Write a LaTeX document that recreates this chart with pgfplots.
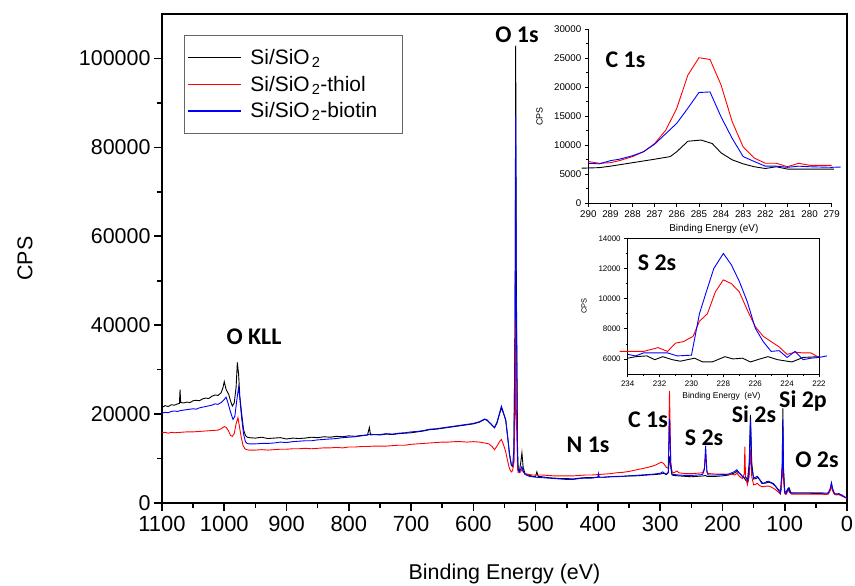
\documentclass[border=0pt]{standalone}
\usepackage{fontspec}
\setmainfont{Liberation Sans}
\newfontfamily\calibri{Carlito}
\usepackage{pgfplots}
\pgfplotsset{compat=1.18}
\definecolor{pblue}{RGB}{0,0,255}
\definecolor{pred}{RGB}{255,0,0}
\newcommand{\subtwo}{\kern2bp\textsubscript{2}}

\pgfplotstableread{
E C
1100 21500
1095 21900
1090 21700
1085 22100
1080 22000
1075 22300
1072 22400
1071 25500
1070 22600
1065 22500
1060 22700
1055 22600
1050 23000
1045 23100
1040 23000
1035 23400
1030 23600
1025 23500
1020 24000
1015 24300
1010 24200
1005 24800
1002 26000
1000 27300
997 25500
993 24500
990 23000
987 21800
984 22500
981 26000
979 31600
977 29000
975 24000
972 20000
969 16500
966 15200
963 14800
960 14700
950 14600
940 14800
930 14500
920 14600
910 14700
900 14400
890 14600
880 14500
870 14600
860 14800
850 14700
840 14900
830 14800
820 15000
810 14900
800 15100
790 15000
780 15200
770 15300
767 17000
765 15300
760 15400
750 15300
740 15500
730 15400
720 15600
710 15700
700 15800
690 16000
680 16200
670 16500
660 16600
650 16800
640 17000
630 17200
620 17400
610 17600
600 17800
590 18200
582 18800
578 18600
572 17800
566 16900
562 18000
558 20000
555 21400
552 20300
548 18600
545 15000
542 11000
539 8500
537 8200
535 9500
533 40000
532 102900
531 50000
529 12000
528 7500
526 7200
524 9000
522 11300
520 8000
517 6600
510 6200
505 6000
500 6000
498 7000
496 6000
490 5900
480 5700
470 5600
460 5500
450 5500
440 5400
430 5600
420 5700
410 5700
400 5800
399 6200
398 5800
390 5800
380 5900
370 5900
360 6000
350 6100
340 6100
330 6200
320 6300
310 6400
300 6500
295 6700
290 6400
287 6800
285 10500
283 8000
281 6300
278 6200
270 6100
260 6000
250 5900
240 6000
230 6100
227 6200
225 6000
220 6000
210 6000
200 6100
190 6300
180 6800
177 7100
172 6600
168 6000
165 5600
163 5200
160 4800
157 9000
155 19800
153 9000
150 5400
146 5500
143 5800
140 5200
135 4400
130 4500
126 4700
120 4400
115 3800
110 3000
106 2700
104 9000
103 21300
102 8000
100 2600
98 2400
95 3200
93 3400
90 2300
85 2200
80 2200
70 2200
60 2200
50 2100
40 2100
35 2000
30 2100
27 3000
25 4300
23 3000
20 2000
15 2000
13 2100
10 1700
5 1400
0 1100
}\blackdata

\pgfplotstableread{
E C
1100 20200
1095 20400
1090 20300
1085 20600
1080 20700
1075 20600
1070 20800
1060 21000
1050 21200
1045 21100
1040 21400
1030 21700
1020 22000
1015 22300
1010 22200
1005 22600
1000 23300
997 23800
994 22500
990 20500
986 18800
983 19500
980 23000
977 26000
975 23500
972 19000
969 15500
966 13800
963 13400
960 13300
950 13300
940 13400
930 13400
920 13500
910 13700
900 13600
890 13800
880 13900
870 14000
860 14000
850 14200
840 14300
830 14400
820 14500
810 14700
800 14800
790 14900
780 15100
770 15300
766 15500
760 15400
750 15400
740 15600
730 15500
720 15700
710 15800
700 16000
690 16100
680 16300
670 16600
660 16700
650 16900
640 17100
630 17300
620 17500
610 17700
600 17900
590 18300
582 18900
578 18700
572 17800
566 17000
562 18200
558 20200
555 21800
552 20500
548 18700
545 15000
542 11000
539 8600
537 8300
535 12000
533 40000
532 87000
531 45000
529 10000
528 7300
526 7000
524 7600
522 8200
520 7200
517 6400
510 6000
505 5900
500 5800
490 5700
480 5600
470 5500
460 5400
450 5300
440 5300
430 5500
420 5600
410 5600
400 5800
399 6600
398 5800
390 5800
380 5900
370 6000
360 6000
350 6100
340 6200
330 6300
320 6400
310 6500
300 6700
296 7000
292 6600
290 6500
287 6900
285 19000
283 9000
281 6500
278 6400
270 6300
260 6200
250 6200
240 6300
232 6400
229 7500
227 12900
225 7000
223 6300
220 6300
210 6300
200 6400
190 6500
185 6800
180 7100
177 7500
172 6600
168 6000
165 5800
162 5700
159 5000
157 8000
155 18800
153 8000
150 5600
147 5800
144 6000
140 5200
137 4400
133 4500
129 4800
126 4900
122 4600
118 4400
113 3400
110 2800
107 2200
104 8000
103 18800
102 7000
100 2400
98 2100
95 3000
94 3300
92 2600
89 2200
85 2300
80 2300
70 2300
60 2300
50 2300
40 2300
35 2200
30 2300
27 3200
25 4600
23 3200
20 2100
16 2000
14 2100
12 2000
8 1800
4 1400
0 1100
}\bluedata

\pgfplotstableread{
E C
1100 15800
1095 15900
1090 15700
1085 15900
1080 15800
1070 15900
1060 16000
1050 16000
1040 16100
1030 16200
1020 16300
1010 16400
1005 16700
1000 17200
997 17000
993 16200
990 15200
987 15000
984 15600
981 17800
978 19200
976 17500
973 15000
970 13000
967 12200
964 12000
960 11900
950 11900
940 12000
930 11900
920 12000
910 12100
900 12100
890 12200
880 12200
870 12300
860 12200
850 12300
840 12400
830 12400
820 12500
810 12400
800 12600
790 12600
780 12700
770 12700
760 12800
750 12800
740 12800
730 12900
720 13000
710 13000
700 13200
690 13300
680 13400
670 13500
660 13600
650 13700
640 13700
630 13800
620 13800
610 13700
600 13800
590 13700
582 13500
575 13300
570 12700
566 12000
562 12800
558 13800
555 14300
552 13300
548 11500
545 9500
542 7700
539 7000
537 7300
535 9000
533 20000
532 43700
531 20000
529 8000
528 6800
526 6800
524 7000
522 7600
520 7000
517 6600
510 6400
505 6300
500 6300
490 6300
480 6200
470 6100
460 6100
450 6100
440 6100
430 6200
420 6300
410 6300
400 6400
390 6500
380 6600
370 6800
360 6900
350 7100
340 7400
330 7700
320 8000
310 8400
305 8700
298 9200
294 8800
290 8000
287 7800
285 25200
283 9000
281 7000
278 6800
273 7200
270 6800
260 6600
250 6600
240 6700
232 6800
229 7800
227 11000
225 7200
223 6600
220 6600
210 6500
200 6500
190 6400
185 6500
180 6300
177 6700
172 5900
168 5500
165 6500
164 12700
163 6000
160 4100
157 6000
155 12000
153 6000
150 4100
147 4200
144 4400
140 3900
137 3700
133 3700
129 3800
126 3800
122 3600
118 3300
113 2800
110 2400
107 2000
104 6000
103 12000
102 5500
100 2100
98 1900
95 2700
94 3000
92 2300
89 2000
85 2000
80 2000
70 2000
60 2000
50 2000
40 2000
35 1900
30 2000
27 2800
25 3700
23 2700
20 1900
16 1800
14 1900
12 1800
8 1600
4 1300
0 1000
}\reddata

\begin{document}
\begin{tikzpicture}
\begin{axis}[
  name=main, at={(0,0)}, anchor=south west,
  width=685bp, height=489bp, scale only axis,
  x dir=reverse, xmin=0, xmax=1100, ymin=0, ymax=110000,
  xtick={0,100,...,1100}, minor x tick num=1,
  ytick={0,20000,...,100000}, minor y tick num=1,
  tick align=outside, xtick pos=bottom, ytick pos=left,
  major tick length=8bp, minor tick length=5bp,
  axis line style={line width=1.6bp},
  tick style={line width=1.6bp, black},
  scaled y ticks=false, scaled x ticks=false,
  /pgf/number format/1000 sep={},
  /pgf/number format/assume math mode=true,
  yticklabel style={/pgf/number format/fixed, font=\fontsize{21.5}{24}\selectfont},
  xticklabel style={font=\fontsize{22}{24}\selectfont, yshift=-2bp},
  xlabel={Binding Energy (eV)}, ylabel={CPS},
  label style={font=\fontsize{21.5}{24}\selectfont},
  xlabel style={at={(axis description cs:0.5,-0.145)}, anchor=center},
  ylabel style={at={(axis description cs:-0.2,0.5)}, anchor=center},
  legend style={at={(axis description cs:0.0321,0.957)}, anchor=north west,
    draw=black!60, line width=0.8bp, font=\fontsize{21}{24}\selectfont,
    inner xsep=3bp, inner ysep=12bp, row sep=6bp,
    /tikz/every odd column/.append style={column sep=7bp}},
  legend cell align=left,
  legend image code/.code={\draw[#1] (0bp,0bp) -- (53bp,0bp);},
]
\addlegendimage{draw=black, line width=1.1bp}
\addlegendentry{Si/SiO\subtwo}
\addlegendimage{draw=pred, line width=1.1bp}
\addlegendentry{Si/SiO\subtwo-thiol}
\addlegendimage{draw=pblue, line width=1.1bp}
\addlegendentry{Si/SiO\subtwo-biotin\rule{20bp}{0pt}}
\addplot[black, line width=0.9bp, forget plot] table[x=E, y=C] {\blackdata};
\addplot[pred, line width=0.9bp, forget plot] table[x=E, y=C] {\reddata};
\addplot[pblue, line width=0.9bp, forget plot] table[x=E, y=C] {\bluedata};
\end{axis}

% Inset C 1s
\begin{axis}[
  at={(426.3bp,299.7bp)}, anchor=south west,
  width=243.4bp, height=174bp, scale only axis, clip=false,
  x dir=reverse, xmin=279, xmax=290, ymin=0, ymax=30000,
  xtick={279,...,290}, ytick={0,5000,...,30000}, minor y tick num=1,
  axis x line=bottom, axis y line=left, axis line style={-, line width=0.9bp},
  tick align=outside, major tick length=3.5bp, minor tick length=2bp,
  tick style={line width=0.8bp, black},
  scaled y ticks=false, scaled x ticks=false,
  /pgf/number format/1000 sep={},
  /pgf/number format/assume math mode=true,
  yticklabel style={/pgf/number format/fixed},
  ticklabel style={font=\fontsize{9.8}{11}\selectfont},
  xlabel={Binding Energy (eV)}, ylabel={CPS},
  xlabel style={font=\fontsize{10}{12}\selectfont, at={(axis description cs:0.516,-0.148)}, anchor=center},
  ylabel style={font=\fontsize{9}{11}\selectfont, at={(axis description cs:-0.2,0.5)}, anchor=center},
]
\addplot[black, line width=0.9bp] coordinates {
(290.3,6050) (289.5,6150) (289.0,6400) (288.0,7000) (287.0,7600) (286.3,8050) (286.0,8900) (285.5,10700) (284.9,10900) (284.4,10300) (284.0,8700) (283.5,7500) (283.0,6800) (282.5,6300) (282.0,6000) (281.5,6300) (281.0,5900) (280.0,5900) (278.9,5900)};
\addplot[pred, line width=0.9bp] coordinates {
(290.0,7200) (289.5,6900) (289.0,7000) (288.6,7350) (288.0,8050) (287.5,8900) (287.0,10300) (286.5,12600) (286.0,16400) (285.5,22100) (285.0,25100) (284.5,24800) (284.0,20400) (283.5,14100) (283.0,9700) (282.5,7800) (282.0,6900) (281.5,6900) (281.0,6300) (280.5,6900) (280.0,6550) (279.0,6550)};
\addplot[pblue, line width=0.9bp] coordinates {
(290.0,6900) (289.5,6800) (289.0,7350) (288.6,7600) (288.0,8200) (287.5,8900) (287.0,10200) (286.5,12000) (286.0,13800) (285.5,16400) (285.0,19100) (284.5,19200) (284.0,14900) (283.5,11200) (283.0,8050) (282.5,7200) (282.0,6400) (281.5,6400) (281.0,6200) (280.5,6400) (280.0,6300) (279.0,6200) (278.6,6250)};
\end{axis}

% Inset S 2s
\begin{axis}[
  at={(465.7bp,129bp)}, anchor=south west,
  width=191.3bp, height=135.6bp, scale only axis, clip=false,
  x dir=reverse, xmin=222, xmax=234, ymin=5000, ymax=14000,
  xtick={222,224,...,234}, minor x tick num=1,
  ytick={6000,8000,...,14000}, minor y tick num=1,
  xtick pos=bottom, ytick pos=left,
  axis line style={line width=0.8bp},
  tick align=outside, major tick length=3.5bp, minor tick length=2bp,
  tick style={line width=0.7bp, black},
  scaled y ticks=false, scaled x ticks=false,
  /pgf/number format/1000 sep={},
  /pgf/number format/assume math mode=true,
  yticklabel style={/pgf/number format/fixed},
  ticklabel style={font=\fontsize{8}{10}\selectfont},
  xlabel={Binding Energy\ \ (eV)}, ylabel={CPS},
  xlabel style={font=\fontsize{8.5}{10}\selectfont, at={(axis description cs:0.49,-0.162)}, anchor=center},
  ylabel style={font=\fontsize{7.5}{9}\selectfont, at={(axis description cs:-0.228,0.5)}, anchor=center},
]
\addplot[black, line width=0.9bp] coordinates {
(234.0,6050) (233.5,6150) (232.8,6200) (232.3,5950) (231.8,6150) (231.2,5950) (230.7,5850) (229.8,6050) (229.3,5800) (228.7,5800) (227.9,6150) (227.4,6000) (226.8,6050) (226.3,5800) (225.7,6000) (225.2,6150) (224.6,5950) (223.7,5800) (223.0,6100) (222.0,6150)};
\addplot[pred, line width=0.9bp] coordinates {
(234.5,6500) (233.0,6500) (232.1,6750) (231.5,6500) (231.0,7050) (230.5,7150) (229.9,7500) (229.5,8500) (229.0,9000) (228.5,10450) (228.0,11250) (227.5,11000) (227.0,10450) (226.5,9250) (226.0,8150) (225.5,7500) (225.0,7150) (224.5,6800) (224.0,6300) (223.5,6450) (223.0,6400) (222.5,6400) (222.0,6100)};
\addplot[pblue, line width=0.9bp] coordinates {
(234.0,6300) (233.5,6200) (233.0,6400) (232.1,6400) (231.5,6400) (230.9,6200) (230.0,6250) (229.5,9000) (229.1,10350) (228.6,12000) (228.0,13000) (227.5,12250) (227.0,11150) (226.5,9800) (226.0,8050) (225.5,7150) (225.0,6500) (224.5,6550) (224.0,6100) (223.5,6500) (223.0,5950) (222.5,6050) (222.0,6100) (221.5,6200)};
\end{axis}

% peak labels
\begin{scope}[every node/.style={font=\calibri\bfseries\fontsize{24}{28}\selectfont, inner sep=0pt, anchor=center}]
\node at (355bp,468bp) {O 1s};
\node at (92bp,166bp) {O KLL};
\node at (426bp,58bp) {N 1s};
\node at (486bp,83bp) {C 1s};
\node at (542bp,65bp) {S 2s};
\node at (592bp,89bp) {Si 2s};
\node at (641bp,102bp) {Si 2p};
\node at (655bp,43bp) {O 2s};
\node at (463.5bp,443.3bp) {C 1s};
\node at (495bp,240bp) {S 2s};
\end{scope}

\pgfresetboundingbox
\path (-162bp,-83bp) rectangle (693bp,503bp);
\end{tikzpicture}
\end{document}
